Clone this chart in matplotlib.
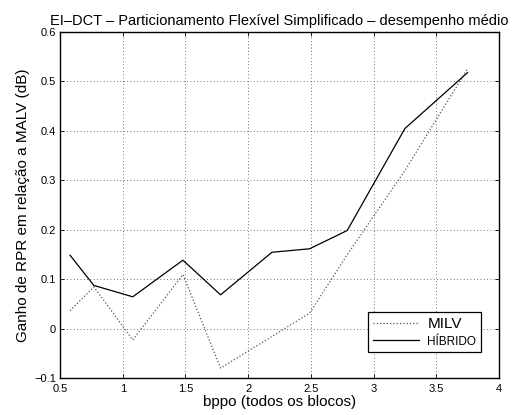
import matplotlib
matplotlib.use("Agg")
import matplotlib.pyplot as plt

plt.rcParams['font.family'] = ['Liberation Sans', 'DejaVu Sans']
plt.rcParams['axes.unicode_minus'] = True

# Average performance data
bppo_hib = [0.58, 0.77, 1.08, 1.48, 1.78, 2.19, 2.49, 2.79, 3.25, 3.75]
hibrido = [0.149, 0.088, 0.065, 0.139, 0.069, 0.155, 0.162, 0.199, 0.405, 0.518]

bppo_milv = [0.58, 0.77, 1.08, 1.48, 1.78, 2.19, 2.49, 2.79, 3.25, 3.75]
milv = [0.037, 0.085, -0.022, 0.110, -0.079, -0.015, 0.032, 0.150, 0.320, 0.526]

xticks = [0.5, 1, 1.5, 2, 2.5, 3, 3.5, 4]
xticklabels = ['0.5', '1', '1.5', '2', '2.5', '3', '3.5', '4']
yticks = [-0.1, 0, 0.1, 0.2, 0.3, 0.4, 0.5, 0.6]
yticklabels = ['\u22120.1', '0', '0.1', '0.2', '0.3', '0.4', '0.5', '0.6']

fig = plt.figure(figsize=(5.16, 4.15), dpi=100)
ax = fig.add_axes([0.1163, 0.088, 0.967 - 0.1163, 0.9229 - 0.088])

l1, = ax.plot(bppo_milv, milv, linestyle=':', color='#555555', linewidth=0.9, label='MILV')
l2, = ax.plot(bppo_hib, hibrido, linestyle='-', color='black', linewidth=0.9, label='HÍBRIDO')

ax.set_xlim(0.5, 4)
ax.set_ylim(-0.1, 0.6)
ax.set_xticks(xticks)
ax.set_xticklabels(xticklabels)
ax.set_yticks(yticks)
ax.set_yticklabels(yticklabels)
ax.tick_params(direction='in', top=True, right=True, labelsize=8, length=3, width=0.6)
ax.tick_params(axis='x', pad=4)
ax.tick_params(axis='y', pad=3)
ax.grid(True, linestyle=(0, (1, 3)), color='#444444', linewidth=0.6)
for s in ax.spines.values():
    s.set_linewidth(1.0)

ax.set_xlabel('bppo (todos os blocos)', fontsize=11, labelpad=1)
ax.set_ylabel('Ganho de RPR em relação a MALV (dB)', fontsize=11, labelpad=3)
ax.set_title('EI\u2013DCT \u2013 Particionamento Flexível Simplificado \u2013 desempenho médio',
             fontsize=10.5, pad=5)

leg = ax.legend(loc='lower right', bbox_to_anchor=(0.975, 0.055), fancybox=False,
                edgecolor='black', framealpha=1, handlelength=3.3, borderpad=0.35,
                labelspacing=0.3, handletextpad=0.6)
leg.get_frame().set_linewidth(0.9)
texts = leg.get_texts()
texts[0].set_fontsize(11)
texts[1].set_fontsize(8.5)

fig.savefig('out.png', dpi=100)
